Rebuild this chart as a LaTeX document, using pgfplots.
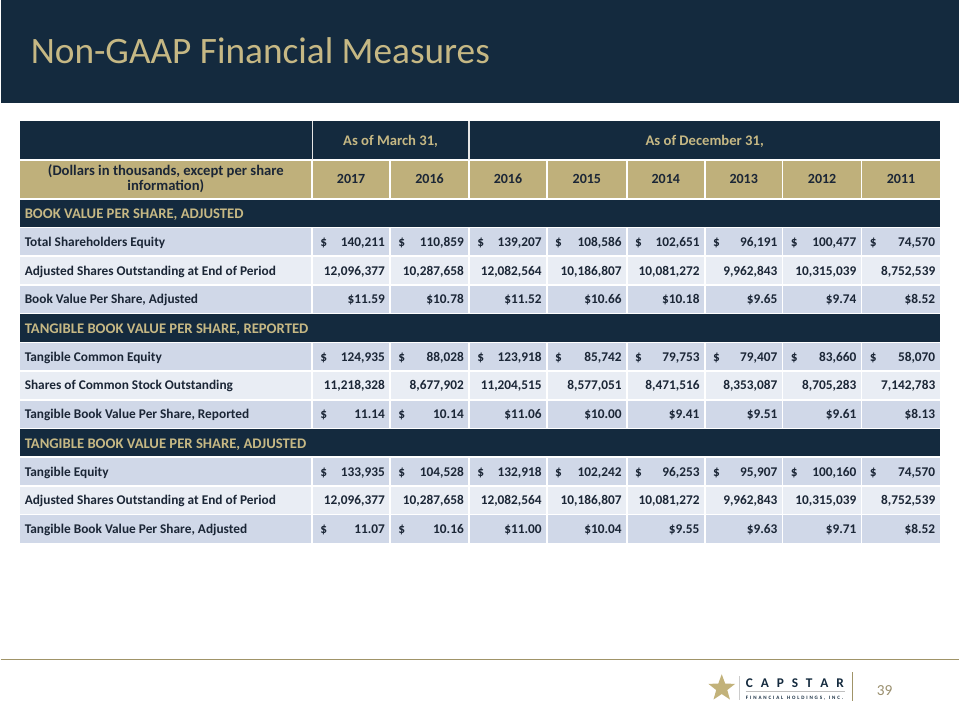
\documentclass[border=0pt]{standalone}
\usepackage{pgfplots}
\pgfplotsset{compat=1.18}
\usepackage{fontspec}
\setmainfont{Carlito}
\usetikzlibrary{shapes.geometric}
\definecolor{navy}{HTML}{142A3E}
\definecolor{goldtxt}{HTML}{C6B884}
\definecolor{goldrow}{HTML}{BFB07B}
\definecolor{rowA}{HTML}{D0D8E8}
\definecolor{rowB}{HTML}{E9EDF4}
\definecolor{tabtext}{HTML}{1B2636}
\definecolor{rulecol}{HTML}{A09468}
\definecolor{pagenum}{HTML}{9A8F6E}
\definecolor{starcol}{HTML}{C2B27A}
\tikzset{cellnode/.style={font=\fontsize{10}{12}\selectfont\bfseries,text=tabtext,inner sep=0pt,yshift=-3.4pt},
  yearnode/.style={anchor=base,inner sep=0pt,text=tabtext,font=\fontsize{10.5}{12}\selectfont\bfseries}}
\newcount\colidx
\def\colleft{\ifcase\colidx\or312\or390\or469\or547\or627\or705\or783\or862\fi}
\def\colright{\ifcase\colidx\or390\or469\or547\or627\or705\or783\or862\or941\fi}
% dollar sign at left, number at right
\newcommand\D[1]{\edef\tmp{\noexpand\node[cellnode,anchor=base west,xshift=6pt] at (axis cs:\colleft,\ry) {\noexpand\$};%
 \noexpand\node[cellnode,anchor=base east,xshift=-3.75pt] at (axis cs:\colright,\ry) {#1};}\tmp}
% dollar attached
\newcommand\Pc[1]{\edef\tmp{\noexpand\node[cellnode,anchor=base east,xshift=-3.75pt] at (axis cs:\colright,\ry) {\noexpand\$#1};}\tmp}
% plain number
\newcommand\N[1]{\edef\tmp{\noexpand\node[cellnode,anchor=base east,xshift=-3.75pt] at (axis cs:\colright,\ry) {#1};}\tmp}
\newcommand\drow[9]{\edef\tmp{\noexpand\node[cellnode,anchor=base west] at (axis cs:24,\ry) {\unexpanded{#1}};}\tmp
 \colidx=1 #2\colidx=2 #3\colidx=3 #4\colidx=4 #5\colidx=5 #6\colidx=6 #7\colidx=7 #8\colidx=8 #9}
\newcommand\sechead[1]{\edef\tmp{\noexpand\node[anchor=base west,inner sep=0pt,text=goldtxt,font=\noexpand\fontsize{11}{13}\noexpand\selectfont\noexpand\bfseries,yshift=-4.1pt] at (axis cs:24,\ry) {\unexpanded{#1}};}\tmp}
\begin{document}
\begin{tikzpicture}
\begin{axis}[scale only axis,width=720pt,height=540pt,xmin=0,xmax=960,ymin=0,ymax=720,
  y dir=reverse,hide axis,clip=false]
\fill[white] (axis cs:0,0) rectangle (axis cs:960,720);
% banner
\fill[navy] (axis cs:0,0) rectangle (axis cs:960,103);
\node[anchor=base west,inner sep=0pt,text=goldtxt,font=\fontsize{28}{30}\selectfont] at (axis cs:30,63.3) {Non-GAAP Financial Measures};
% table backgrounds
\fill[navy] (axis cs:19,121) rectangle (axis cs:941,160);
\fill[goldrow] (axis cs:19,160) rectangle (axis cs:941,199);
\fill[navy] (axis cs:19,199) rectangle (axis cs:941,227.75);
\fill[rowA] (axis cs:19,227.75) rectangle (axis cs:941,256.5);
\fill[rowB] (axis cs:19,256.5) rectangle (axis cs:941,285.25);
\fill[rowA] (axis cs:19,285.25) rectangle (axis cs:941,314);
\fill[navy] (axis cs:19,314) rectangle (axis cs:941,342.75);
\fill[rowA] (axis cs:19,342.75) rectangle (axis cs:941,371.5);
\fill[rowB] (axis cs:19,371.5) rectangle (axis cs:941,400.25);
\fill[rowA] (axis cs:19,400.25) rectangle (axis cs:941,429);
\fill[navy] (axis cs:19,429) rectangle (axis cs:941,457.75);
\fill[rowA] (axis cs:19,457.75) rectangle (axis cs:941,486.5);
\fill[rowB] (axis cs:19,486.5) rectangle (axis cs:941,515.25);
\fill[rowA] (axis cs:19,515.25) rectangle (axis cs:941,544);
% white grid lines
\pgfplotsinvokeforeach{160,199,227.75,256.5,285.25,314,342.75,371.5,400.25,429,457.75,486.5,515.25}{
  \draw[white,line width=1.2pt] (axis cs:19,#1) -- (axis cs:941,#1);}
\draw[white!80!gray,line width=1pt] (axis cs:312,121) -- (axis cs:312,160);
\draw[white!80!gray,line width=1pt] (axis cs:469,121) -- (axis cs:469,160);
\pgfplotsinvokeforeach{312,390,469,547,627,705,783,862}{
  \draw[white,line width=1.2pt] (axis cs:#1,160) -- (axis cs:#1,199);
  \draw[white,line width=1.2pt] (axis cs:#1,227.75) -- (axis cs:#1,314);
  \draw[white,line width=1.2pt] (axis cs:#1,342.75) -- (axis cs:#1,429);
  \draw[white,line width=1.2pt] (axis cs:#1,457.75) -- (axis cs:#1,544);}
% header texts
\node[anchor=base,inner sep=0pt,text=goldtxt,font=\fontsize{11}{13}\selectfont\bfseries] at (axis cs:390.5,145.7) {As of March 31,};
\node[anchor=base,inner sep=0pt,text=goldtxt,font=\fontsize{11}{13}\selectfont\bfseries] at (axis cs:705,145.7) {As of December 31,};
\node[yearnode,font=\fontsize{11}{12}\selectfont\bfseries] at (axis cs:165.5,176) {(Dollars in thousands, except per share};
\node[yearnode,font=\fontsize{11}{12}\selectfont\bfseries] at (axis cs:165.5,191) {information)};
\node[yearnode] at (axis cs:351,184) {2017};
\node[yearnode] at (axis cs:429.5,184) {2016};
\node[yearnode] at (axis cs:508,184) {2016};
\node[yearnode] at (axis cs:587,184) {2015};
\node[yearnode] at (axis cs:666,184) {2014};
\node[yearnode] at (axis cs:744,184) {2013};
\node[yearnode] at (axis cs:822.5,184) {2012};
\node[yearnode] at (axis cs:901.5,184) {2011};
% section 1
\def\ry{213.4}\sechead{BOOK VALUE PER SHARE, ADJUSTED}
\def\ry{242.1}\drow{Total Shareholders Equity}{\D{140,211}}{\D{110,859}}{\D{139,207}}{\D{108,586}}{\D{102,651}}{\D{96,191}}{\D{100,477}}{\D{74,570}}
\def\ry{270.9}\drow{Adjusted Shares Outstanding at End of Period}{\N{12,096,377}}{\N{10,287,658}}{\N{12,082,564}}{\N{10,186,807}}{\N{10,081,272}}{\N{9,962,843}}{\N{10,315,039}}{\N{8,752,539}}
\def\ry{299.6}\drow{Book Value Per Share, Adjusted}{\Pc{11.59}}{\Pc{10.78}}{\Pc{11.52}}{\Pc{10.66}}{\Pc{10.18}}{\Pc{9.65}}{\Pc{9.74}}{\Pc{8.52}}
% section 2
\def\ry{328.4}\sechead{TANGIBLE BOOK VALUE PER SHARE, REPORTED}
\def\ry{357.1}\drow{Tangible Common Equity}{\D{124,935}}{\D{88,028}}{\D{123,918}}{\D{85,742}}{\D{79,753}}{\D{79,407}}{\D{83,660}}{\D{58,070}}
\def\ry{385.9}\drow{Shares of Common Stock Outstanding}{\N{11,218,328}}{\N{8,677,902}}{\N{11,204,515}}{\N{8,577,051}}{\N{8,471,516}}{\N{8,353,087}}{\N{8,705,283}}{\N{7,142,783}}
\def\ry{414.6}\drow{Tangible Book Value Per Share, Reported}{\D{11.14}}{\D{10.14}}{\Pc{11.06}}{\Pc{10.00}}{\Pc{9.41}}{\Pc{9.51}}{\Pc{9.61}}{\Pc{8.13}}
% section 3
\def\ry{443.4}\sechead{TANGIBLE BOOK VALUE PER SHARE, ADJUSTED}
\def\ry{472.1}\drow{Tangible Equity}{\D{133,935}}{\D{104,528}}{\D{132,918}}{\D{102,242}}{\D{96,253}}{\D{95,907}}{\D{100,160}}{\D{74,570}}
\def\ry{500.9}\drow{Adjusted Shares Outstanding at End of Period}{\N{12,096,377}}{\N{10,287,658}}{\N{12,082,564}}{\N{10,186,807}}{\N{10,081,272}}{\N{9,962,843}}{\N{10,315,039}}{\N{8,752,539}}
\def\ry{529.6}\drow{Tangible Book Value Per Share, Adjusted}{\D{11.07}}{\D{10.16}}{\Pc{11.00}}{\Pc{10.04}}{\Pc{9.55}}{\Pc{9.63}}{\Pc{9.71}}{\Pc{8.52}}
% footer
\draw[rulecol,line width=0.8pt] (axis cs:0,660.5) -- (axis cs:960,660.5);
\node[star,star points=5,star point ratio=2.4,fill=starcol,minimum size=21pt,inner sep=0pt] at (axis cs:722,689) {};
\draw[gray!40,line width=0.4pt] (axis cs:740,677) -- (axis cs:740,701);
\node[anchor=base west,inner sep=0pt,text=navy,font=\fontsize{10}{10}\selectfont\bfseries] at (axis cs:746,688) {\makebox[73.5pt][s]{C\hfill A\hfill P\hfill S\hfill T\hfill A\hfill R}};
\draw[gray!50,line width=0.4pt] (axis cs:746,692) -- (axis cs:845,692);
\node[anchor=base west,inner sep=0pt,text=navy,font=\fontsize{3.8}{4}\selectfont\bfseries] at (axis cs:746,700) {\makebox[73pt][s]{F\hfill I\hfill N\hfill A\hfill N\hfill C\hfill I\hfill A\hfill L\hfill\hfill H\hfill O\hfill L\hfill D\hfill I\hfill N\hfill G\hfill S\hfill ,\hfill\hfill I\hfill N\hfill C\hfill .}};
\draw[rulecol,line width=0.8pt] (axis cs:853,673) -- (axis cs:853,702);
\node[anchor=base west,inner sep=0pt,text=pagenum,font=\fontsize{11.5}{12}\selectfont] at (axis cs:877,696) {39};
\end{axis}
\end{tikzpicture}
\end{document}
